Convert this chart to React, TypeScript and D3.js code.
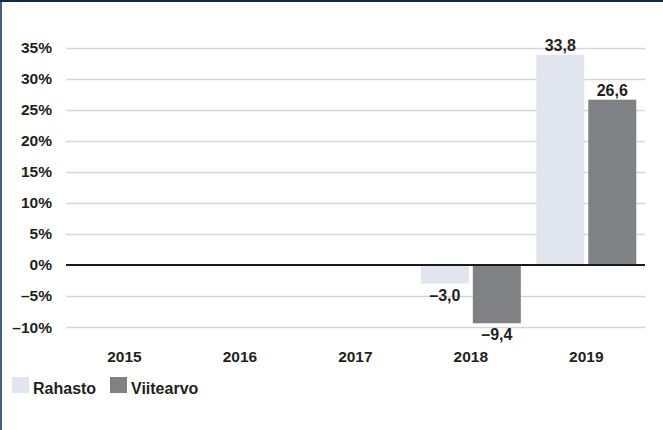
import React from "react";
import * as d3 from "d3";

const years = ["2015", "2016", "2017", "2018", "2019"];
const seriesNames = ["Rahasto", "Viitearvo"];
const rahasto: (number | null)[] = [null, null, null, -3.0, 33.8];
const viitearvo: (number | null)[] = [null, null, null, -9.4, 26.6];
const yTicks = [-10, -5, 0, 5, 10, 15, 20, 25, 30, 35];
const colors = ["#e1e5ee", "#808185"];

const W = 663;
const H = 430;
const FONT = "'Liberation Sans', Arial, Helvetica, sans-serif";
const TXT = "#231f20";

const fmtVal = (v: number) => (v < 0 ? "\u2013" : "") + Math.abs(v).toFixed(1).replace(".", ",");
const fmtTick = (v: number) => (v < 0 ? "\u2013" : "") + Math.abs(v) + "%";

export default function App() {
  const y = d3.scaleLinear().domain([-10, 35]).range([327, 47.5]);
  const x = d3.scaleBand<string>().domain(years).range([66.75, 644]).padding(0);
  const bw = x.bandwidth();
  const x1 = d3
    .scaleBand<string>()
    .domain(seriesNames)
    .range([bw / 2 - 50, bw / 2 + 50])
    .paddingInner(4 / 52)
    .paddingOuter(0);
  const gridX0 = 66;
  const gridX1 = 645;
  const data = [rahasto, viitearvo];

  return (
    <svg
      width={W}
      height={H}
      style={{ position: "absolute", left: 0, top: 0, background: "#fff" }}
      fontFamily={FONT}
    >
      <rect x={0} y={0} width={W} height={H} fill="#fff" />
      <rect x={0} y={0} width={2} height={H} fill="#40608a" />
      <rect x={0} y={0} width={W} height={2} fill="#0c2b52" />

      {yTicks.map((t) =>
        t === 0 ? null : (
          <line
            key={"g" + t}
            x1={gridX0}
            x2={gridX1}
            y1={Math.round(y(t)) + 0.5}
            y2={Math.round(y(t)) + 0.5}
            stroke="#d6d6d6"
            strokeWidth={1.3}
          />
        )
      )}
      {yTicks.map((t) => (
        <text
          key={"t" + t}
          x={52}
          y={y(t) + 5.5}
          textAnchor="end"
          fontSize={15.5}
          fontWeight="bold"
          fill={TXT}
        >
          {fmtTick(t)}
        </text>
      ))}

      {data.map((arr, si) =>
        arr.map((v, i) => {
          if (v === null) return null;
          const bx = (x(years[i]) as number) + (x1(seriesNames[si]) as number);
          const y0 = y(0);
          const yv = y(v);
          return (
            <g key={si + "-" + i}>
              <rect
                x={bx}
                y={Math.min(y0, yv)}
                width={x1.bandwidth()}
                height={Math.abs(yv - y0)}
                fill={colors[si]}
              />
              <text
                x={bx + x1.bandwidth() / 2}
                y={v >= 0 ? yv - 4 : yv + 17}
                textAnchor="middle"
                fontSize={16}
                fontWeight="bold"
                fill={TXT}
              >
                {fmtVal(v)}
              </text>
            </g>
          );
        })
      )}

      <line x1={gridX0} x2={gridX1} y1={y(0)} y2={y(0)} stroke="#1a1a1a" strokeWidth={2} />

      {years.map((yr) => (
        <text
          key={yr}
          x={(x(yr) as number) + bw / 2}
          y={361.5}
          textAnchor="middle"
          fontSize={15.5}
          fontWeight="bold"
          fill={TXT}
        >
          {yr}
        </text>
      ))}

      {seriesNames.map((s, i) => {
        const lx = i === 0 ? 12 : 110;
        return (
          <g key={s}>
            <rect x={lx} y={377} width={17} height={16} fill={colors[i]} />
            <text x={lx + 21} y={393.5} fontSize={16} fontWeight="bold" fill={TXT}>
              {s}
            </text>
          </g>
        );
      })}
    </svg>
  );
}
